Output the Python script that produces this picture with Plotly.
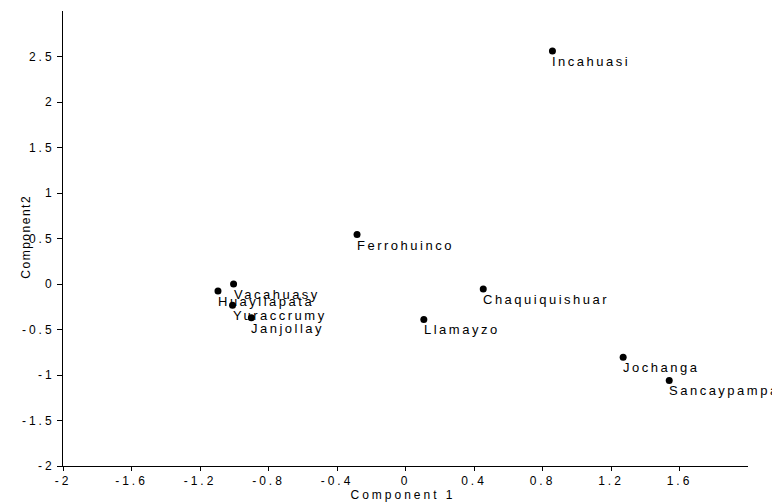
import plotly.graph_objects as go

sites = ["Incahuasi", "Ferrohuinco", "Vacahuasy", "Huayllapata", "Yuraccrumy",
         "Janjollay", "Llamayzo", "Chaquiquishuar", "Jochanga", "Sancaypampa"]
comp1 = [0.858, -0.283, -1.004, -1.095, -1.010, -0.900, 0.107, 0.454, 1.271, 1.540]
comp2 = [2.56, 0.544, 0.0, -0.077, -0.233, -0.372, -0.390, -0.055, -0.806, -1.060]

x_ticks = [-2, -1.6, -1.2, -0.8, -0.4, 0, 0.4, 0.8, 1.2, 1.6]
x_tick_text = ["-2", "-1.6", "-1.2", "-0.8", "-0.4", "0", "0.4", "0.8", "1.2", "1.6"]
y_ticks = [-2, -1.5, -1, -0.5, 0, 0.5, 1, 1.5, 2, 2.5]
y_tick_text = ["-2", "-1.5", "-1", "-0.5", "0", "0.5", "1", "1.5", "2", "2.5"]

FONT = "Liberation Sans, Arial, sans-serif"

fig = go.Figure()
fig.add_trace(go.Scatter(
    x=comp1, y=comp2, mode="markers",
    marker=dict(color="black", size=7),
    hoverinfo="skip", showlegend=False,
))

for name, x, y in zip(sites, comp1, comp2):
    fig.add_annotation(x=x, y=y, text=name, showarrow=False, align="left",
                       xanchor="left", yanchor="top", xshift=-2, yshift=-1,
                       font=dict(family=FONT, size=13, color="black"))

fig.add_annotation(xref="paper", yref="paper", x=0.496, y=-0.063,
                   text="Component 1", showarrow=False,
                   xanchor="center", yanchor="middle",
                   font=dict(family=FONT, size=12, color="black"))
fig.add_annotation(xref="paper", yref="paper", x=-0.054, y=0.503,
                   text="Component2", showarrow=False, textangle=-90,
                   xanchor="center", yanchor="middle",
                   font=dict(family=FONT, size=12, color="black"))

fig.update_layout(
    width=772, height=495,
    margin=dict(l=55, r=32, t=3, b=37, autoexpand=False),
    plot_bgcolor="white", paper_bgcolor="white",
    font=dict(family=FONT, size=12, color="black"),
    xaxis=dict(range=[-2, 2.0], tickvals=x_ticks, ticktext=x_tick_text,
               showgrid=False, zeroline=False, showline=True,
               linecolor="black", linewidth=1, ticks="outside",
               ticklen=4, tickcolor="black", tickwidth=1,
               tickfont=dict(size=12), automargin=False),
    yaxis=dict(range=[-2, 3.0], tickvals=y_ticks, ticktext=y_tick_text,
               showgrid=False, zeroline=False, showline=True,
               linecolor="black", linewidth=1, ticks="outside",
               ticklen=5, tickcolor="black", tickwidth=1,
               tickfont=dict(size=12), automargin=False),
)

post = """
var gd = document.getElementById('{plot_id}');
var NLAB = """ + str(len(sites)) + """;
function spaceText() {
  gd.querySelectorAll('.xtick text, .ytick text').forEach(function(t) {
    t.style.letterSpacing = '3px';
  });
  gd.querySelectorAll('g.annotation').forEach(function(g) {
    var idx = parseInt(g.getAttribute('data-index'));
    var sp = '2.5px';
    if (idx === NLAB) { sp = '3px'; }
    else if (idx === NLAB + 1) { sp = '1.5px'; }
    g.querySelectorAll('text').forEach(function(t) { t.style.letterSpacing = sp; });
  });
}
spaceText();
gd.on('plotly_afterplot', spaceText);
"""

fig.write_html("out.html", post_script=post, config={"displayModeBar": False})
